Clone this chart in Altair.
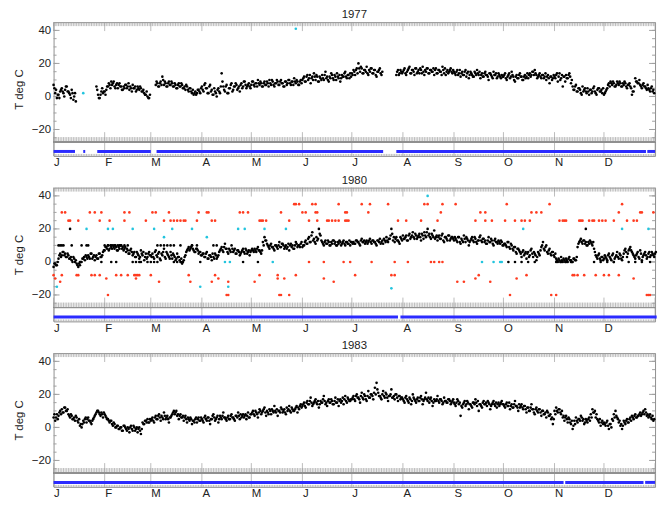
import json
import altair as alt
import pandas as pd

MONTH_LABELS = ["J", "F", "M", "A", "M", "J", "J", "A", "S", "O", "N", "D"]
MONTH_STARTS = [0, 31, 59, 90, 120, 151, 181, 212, 243, 273, 304, 334]
MONTH_STARTS_LEAP = [0, 31, 60, 91, 121, 152, 182, 213, 244, 274, 305, 335]
Y_LABELS = [-20, 0, 20, 40]

# ---------------- 1977 temperatures: two readings per day (None = no data) ----------------
t77_jan = [7, 2, -1, 1, 3, 5, 2, 4, 6, 3, 1, 4, -2, 2, None, None, None, None, None, None, None, None, None, None, None, None, 6, 1, -1, 3, 2]
t77_feb = [3, 4, 6, 7, 9, 8, 6, 7, 5, 8, 6, 4, 5, 7, 6, 4, 5, 7, 5, 3, 6, 4, 5, 3, 2, 1, 0, -1]
t77_mar = [None, None, None, 7, 8, 6, 9, 12, 7, 8, 6, 9, 7, 8, 6, 7, 5, 8, 6, 7, 5, 4, 6, 3, 5, 2, 1, 3, 2, 4, 2]
t77_apr = [6, 3, 8, 5, 2, 7, 4, 1, 3, 0, 5, 2, 14, 6, 3, 7, 2, 5, 8, 4, 6, 7, 5, 3, 8, 6, 9, 5, 7, 6]
t77_may = [7, 9, 6, 8, 10, 7, 8, 6, 9, 7, 8, 10, 7, 9, 6, 8, 9, 7, 10, 8, 6, 9, 8, 10, 7, 9, 11, 8, 9, 7, 10]
t77_jun = [10, 12, 9, 13, 11, 8, 12, 14, 10, 12, 9, 11, 13, 10, 15, 12, 9, 11, 13, 10, 12, 14, 11, 9, 13, 12, 15, 11, 13, 14]
t77_jul = [14, 16, 13, 17, 20, 15, 17, 14, 16, 18, 13, 15, 17, 14, 16, 12, 15, 17, 13, None, None, None, None, None, None, None, None, 13, 16, 14, 15]
t77_aug = [15, 17, 13, 16, 18, 14, 16, 13, 17, 15, 14, 16, 18, 13, 15, 17, 14, 16, 15, 13, 17, 14, 16, 15, 18, 14, 13, 16, 15, 17, 14]
t77_sep = [15, 13, 16, 14, 12, 15, 13, 16, 14, 11, 15, 13, 12, 14, 16, 13, 11, 14, 12, 15, 13, 10, 14, 12, 15, 13, 11, 14, 12, 13]
t77_oct = [12, 14, 10, 13, 11, 15, 12, 9, 13, 11, 14, 12, 10, 13, 12, 11, 14, 13, 15, 16, 13, 12, 14, 11, 13, 12, 10, 13, 8, 12, 11]
t77_nov = [12, 13, 9, 14, 11, 6, 12, 13, 11, 14, 8, 6, 4, 7, 3, 5, 2, 6, 4, 3, 5, 1, 4, 3, 6, 2, 4, 5, 3, 2]
t77_dec = [1, 3, 5, 8, 9, 7, 8, 6, 9, 7, 8, 6, 7, 8, 5, 7, 6, 1, 3, 11, 9, 8, 7, 5, 8, 6, 4, 5, 3, 6, 4]
t77b_jan = [5, 4, 1, -1, 4, 3, 0, 6, 3, 2, -1, 2, 0, -3, None, None, None, None, None, None, None, None, None, None, None, None, 4, -1, 1, 5, 3]
t77b_feb = [1, 6, 8, 5, 7, 9, 5, 8, 7, 6, 4, 6, 7, 5, 8, 6, 3, 5, 6, 4, 5, 6, 3, 4, 1, 3, -1, 1]
t77b_mar = [None, None, None, 9, 6, 8, 7, 10, 9, 6, 8, 7, 9, 6, 8, 5, 7, 6, 8, 5, 6, 7, 4, 5, 3, 4, 2, 1, 4, 3, 5]
t77b_apr = [4, 7, 5, 2, 6, 3, 1, 5, 2, 4, 3, 6, 9, 4, 6, 2, 5, 7, 3, 6, 8, 4, 6, 7, 5, 9, 7, 6, 8, 5]
t77b_may = [9, 7, 8, 6, 8, 9, 6, 8, 7, 9, 6, 8, 10, 7, 8, 10, 7, 9, 8, 6, 9, 7, 10, 8, 9, 7, 9, 10, 7, 9, 8]
t77b_jun = [11, 9, 12, 10, 13, 11, 10, 12, 13, 9, 12, 10, 11, 13, 11, 10, 12, 14, 11, 13, 10, 12, 13, 11, 12, 14, 12, 13, 11, 12]
t77b_jul = [13, 15, 16, 14, 17, 18, 14, 16, 15, 14, 16, 17, 14, 16, 13, 15, 16, 14, 15, None, None, None, None, None, None, None, None, 15, 13, 16, 14]
t77b_aug = [16, 14, 15, 17, 14, 16, 15, 17, 14, 16, 17, 14, 15, 16, 17, 14, 16, 15, 17, 16, 14, 16, 15, 13, 16, 17, 15, 14, 16, 15, 16]
t77b_sep = [14, 15, 13, 16, 14, 13, 15, 12, 15, 13, 14, 12, 15, 13, 14, 15, 13, 12, 14, 13, 12, 14, 13, 11, 13, 14, 12, 13, 11, 12]
t77b_oct = [13, 11, 12, 14, 12, 13, 10, 12, 11, 13, 12, 10, 12, 11, 14, 13, 12, 15, 13, 14, 11, 13, 12, 13, 11, 14, 12, 11, 12, 10, 13]
t77b_nov = [11, 14, 12, 10, 13, 12, 9, 11, 13, 12, 10, 4, 6, 3, 5, 4, 1, 3, 5, 2, 3, 4, 2, 5, 3, 1, 5, 3, 4, 5]
t77b_dec = [2, 4, 7, 6, 8, 9, 6, 7, 8, 9, 6, 8, 9, 6, 7, 8, 5, 3, 6, 9, 8, 10, 6, 7, 6, 5, 7, 4, 5, 3, 2]
cyan77_day = [18, 147]
cyan77_val = [2, 41]
avail77_start = [0, 18, 26.5, 62.5, 208, 360.3]
avail77_end = [13, 19.2, 59, 200, 359.5, 365]

# ---------------- 1980 temperatures ----------------
t80_jan = [-3, -1, -2, 2, 5, 4, 6, 5, 3, 4, 2, 1, 3, 0, -1, -3, -2, 0, 2, 1, 3, 4, 2, 5, 3, 1, 4, 2, 5, 3, 6]
t80_feb = [7, 9, 10, 8, 9, 10, 8, 9, 7, 8, 10, 9, 8, 6, 7, 5, 8, 4, 6, 3, 5, 2, 7, 4, 1, 5, 3, 6, 4]
t80_mar = [5, 2, 7, 3, 6, 1, 4, 8, 2, 5, 3, 6, 2, 4, 1, 5, 3, 0, -1, 1, 4, 7, 9, 8, 10, 7, 6, 8, 5, 6, 4]
t80_apr = [5, 3, 6, 2, 4, 1, 3, 5, 2, 4, 7, 9, 6, 11, 8, 5, 7, 10, 6, 8, 5, 7, 4, 6, 8, 5, 7, 6, 4, 7]
t80_may = [7, 8, 6, 9, 7, 5, 12, 15, 13, 10, 8, 11, 9, 7, 10, 8, 12, 9, 11, 8, 10, 9, 7, 11, 10, 8, 12, 9, 10, 11, 9]
t80_jun = [10, 13, 11, 15, 12, 18, 14, 11, 13, 20, 16, 12, 10, 13, 11, 12, 10, 11, 13, 12, 10, 11, 12, 11, 13, 10, 12, 11, 10, 12]
t80_jul = [12, 11, 13, 12, 10, 14, 12, 11, 13, 12, 14, 11, 13, 12, 10, 13, 14, 12, 11, 13, 15, 12, 14, 20, 13, 12, 15, 13, 11, 14, 16]
t80_aug = [14, 16, 13, 17, 15, 18, 14, 16, 15, 17, 13, 16, 18, 15, 20, 17, 14, 16, 19, 15, 13, 16, 14, 17, 12, 15, 13, 16, 14, 15, 13]
t80_sep = [14, 12, 15, 11, 13, 16, 12, 14, 10, 13, 15, 12, 14, 11, 13, 16, 12, 14, 13, 11, 15, 12, 13, 10, 14, 12, 13, 11, 12, 10]
t80_oct = [11, 9, 12, 8, 10, 7, 9, 5, 8, 6, 3, 7, 5, 2, 6, 4, 8, 3, 5, 1, 6, 4, 9, 12, 7, 10, 5, 8, 4, 6, 3]
t80_nov = [2, 0, 1, 3, 0, 1, 2, 0, 3, 1, 0, 2, 1, 9, 12, 14, 11, 13, 12, 10, 11, 12, 10, 8, 4, 2, 5, 1, 3, 2]
t80_dec = [3, 1, 5, 2, 4, 0, 3, 6, 2, 4, 1, 5, 8, 3, 7, 9, 6, 4, 2, 5, 3, 7, 1, 4, 6, 2, 5, 3, 6, 4, 5]
t80b_jan = [-1, -2, 0, 4, 3, 6, 4, 3, 5, 2, 3, 0, 2, 1, -2, -1, 0, 2, 3, 4, 2, 3, 5, 2, 4, 3, 2, 5, 3, 4, 7]
t80b_feb = [9, 8, 7, 10, 8, 9, 10, 7, 9, 10, 8, 7, 9, 8, 5, 7, 6, 5, 3, 6, 4, 3, 5, 6, 3, 2, 5, 4, 3]
t80b_mar = [3, 6, 4, 5, 2, 5, 6, 3, 6, 4, 2, 4, 5, 3, 2, 3, 1, 2, 0, 3, 6, 8, 7, 9, 8, 6, 8, 7, 6, 4, 5]
t80b_apr = [3, 5, 2, 4, 3, 5, 2, 4, 3, 6, 8, 7, 9, 8, 6, 8, 6, 8, 7, 5, 7, 6, 5, 7, 6, 8, 5, 7, 6, 8]
t80b_may = [6, 7, 8, 7, 6, 7, 10, 13, 11, 9, 10, 9, 8, 10, 9, 10, 9, 11, 10, 9, 8, 11, 10, 9, 8, 10, 11, 10, 9, 12, 10]
t80b_jun = [12, 11, 14, 12, 16, 13, 12, 15, 14, 17, 13, 11, 12, 11, 13, 10, 12, 13, 11, 10, 12, 13, 10, 12, 11, 12, 11, 13, 12, 11]
t80b_jul = [11, 13, 12, 11, 13, 12, 13, 12, 11, 13, 12, 13, 12, 11, 13, 12, 11, 13, 14, 12, 13, 14, 16, 17, 15, 14, 13, 12, 15, 13, 14]
t80b_aug = [15, 13, 16, 14, 16, 15, 17, 14, 16, 15, 17, 14, 16, 18, 16, 15, 17, 15, 14, 16, 15, 14, 16, 13, 15, 14, 16, 13, 15, 14, 15]
t80b_sep = [13, 15, 12, 14, 12, 14, 15, 13, 12, 14, 13, 15, 12, 13, 15, 13, 14, 12, 11, 13, 12, 14, 11, 13, 12, 11, 12, 13, 10, 11]
t80b_oct = [10, 12, 9, 11, 8, 9, 6, 8, 7, 5, 6, 4, 6, 5, 3, 7, 5, 6, 4, 3, 5, 7, 10, 8, 9, 6, 7, 5, 6, 4, 5]
t80b_nov = [1, 2, 0, 1, 2, 0, 1, 2, 1, 0, 2, 1, 3, 11, 13, 12, 13, 11, 10, 12, 13, 11, 12, 6, 3, 4, 2, 3, 1, 4]
t80b_dec = [2, 4, 3, 1, 5, 2, 4, 3, 5, 2, 3, 7, 6, 5, 8, 7, 5, 3, 4, 6, 2, 5, 3, 5, 4, 3, 6, 4, 5, 3, 6]
# black readings sitting on flagged levels
blk80_10 = [3, 4, 5, 6, 11, 17, 20, 21, 31, 33, 35, 37, 39, 40, 41, 43, 45, 63, 65, 67, 69, 71, 73, 77, 84, 87, 97, 99]
blk80_0 = [16, 29, 35, 38, 48, 50, 52, 53, 57, 59, 61, 63, 73, 75, 78, 89, 115, 124, 276, 280, 284, 288, 292, 305, 308, 311, 314, 328, 332, 336, 340, 349, 353, 357, 362]
blk80_20 = [10, 323]
# red readings (day of year) on their levels
red80_35 = [146, 147, 149, 157, 159, 173, 187, 192, 203, 225, 227, 236, 244, 275, 301, 345]
red80_30 = [5, 7, 22, 25, 29, 43, 46, 60, 62, 70, 88, 93, 94, 113, 115, 118, 138, 151, 153, 159, 160, 177, 178, 191, 235, 259, 262, 290, 293, 296, 343, 356, 357, 364]
red80_25 = [9, 10, 15, 28, 34, 43, 56, 67, 71, 73, 75, 77, 79, 80, 87, 96, 98, 125, 126, 127, 129, 143, 155, 160, 166, 167, 169, 171, 173, 177, 178, 179, 209, 214, 223, 233, 256, 262, 266, 274, 280, 284, 286, 289, 307, 309, 310, 311, 319, 320, 321, 325, 327, 328, 331, 333, 335, 340, 348, 352, 354]
red80_0 = [155, 164, 176, 180, 193, 207, 215, 229, 231, 234, 236]
red80_m8 = [0, 5, 14, 15, 23, 25, 28, 38, 41, 45, 49, 50, 51, 52, 59, 82, 98, 125, 136, 147, 183, 205, 207, 258, 287, 315, 316, 318, 322, 329, 334, 337, 343]
red80_m10 = [1, 32, 50, 100, 136, 140, 164, 256, 281, 352]
red80_m12 = [4, 64, 83, 96, 106, 122, 170, 245, 249, 265]
red80_m20 = [33, 105, 106, 137, 138, 143, 277, 302, 305, 360, 361, 362]
cyan80_day = [227, 20, 33, 36, 48, 61, 72, 84, 112, 116, 128, 141, 285, 345, 361, 67, 93, 104, 107, 133, 260, 267, 271, 272, 2, 89, 106, 205]
cyan80_val = [40, 20, 20, 20, 20, 20, 20, 20, 20, 20, 20, 20, 20, 20, 20, 15, 15, 0, 0, 0, 0, 0, 0, 0, -15, -15, -15, -16]
avail80_start = [0, 210.5]
avail80_end = [209, 366]

# ---------------- 1983 temperatures ----------------
t83_jan = [6, 4, 8, 7, 10, 11, 9, 12, 10, 8, 6, 7, 5, 4, 6, 3, 1, 0, 4, 5, 3, 6, 4, 2, 5, 7, 9, 10, 8, 9, 6]
t83_feb = [8, 6, 5, 3, 4, 1, 2, 0, 1, -1, 0, -2, 1, -1, 0, -3, 1, -2, 0, -1, -3, 0, -4, 3, 2, 4, 5, 3]
t83_mar = [4, 6, 3, 7, 5, 8, 4, 6, 9, 5, 7, 3, 6, 8, 10, 9, 7, 5, 8, 6, 4, 7, 3, 5, 6, 2, 4, 5, 3, 6, 4]
t83_apr = [5, 3, 7, 4, 6, 2, 5, 8, 4, 6, 3, 7, 5, 9, 6, 4, 7, 5, 8, 6, 4, 7, 9, 5, 6, 8, 7, 5, 9, 6]
t83_may = [8, 10, 7, 9, 6, 11, 8, 10, 12, 7, 9, 11, 8, 10, 13, 9, 7, 10, 12, 9, 11, 8, 10, 13, 9, 11, 10, 12, 9, 11, 14]
t83_jun = [13, 15, 12, 16, 14, 18, 13, 15, 17, 14, 12, 16, 15, 19, 14, 13, 17, 15, 16, 14, 18, 15, 13, 17, 16, 14, 19, 15, 17, 16]
t83_jul = [17, 19, 16, 20, 18, 15, 21, 17, 19, 16, 22, 18, 20, 17, 24, 27, 21, 19, 17, 22, 18, 20, 16, 19, 23, 18, 17, 20, 16, 19, 18]
t83_aug = [17, 15, 19, 16, 18, 14, 20, 17, 15, 18, 16, 19, 14, 17, 21, 16, 15, 18, 13, 17, 16, 19, 15, 17, 14, 18, 16, 15, 17, 14, 16]
t83_sep = [15, 13, 17, 14, 7, 12, 15, 13, 16, 11, 14, 12, 15, 17, 13, 10, 14, 12, 16, 14, 13, 15, 11, 14, 16, 13, 12, 15, 14, 16]
t83_oct = [14, 12, 15, 13, 11, 14, 12, 16, 13, 10, 12, 14, 11, 13, 9, 12, 10, 14, 11, 8, 12, 9, 11, 7, 10, 8, 6, 9, 7, 5, 2]
t83_nov = [10, 12, 9, 11, 8, 6, 4, 7, 3, 5, 2, -1, 4, 6, 3, 5, 7, 4, 2, 5, 3, 6, 8, 11, 9, 6, 5, 3, 1, 4]
t83_dec = [3, 1, 4, -1, 2, 5, 8, 10, 6, 3, 1, -1, 4, 2, 5, 3, 6, 7, 5, 8, 6, 7, 9, 8, 10, 11, 7, 6, 8, 5, 4]
t83b_jan = [8, 6, 5, 9, 8, 9, 12, 10, 11, 7, 8, 5, 6, 7, 4, 5, 2, 2, 3, 6, 5, 4, 3, 4, 6, 8, 10, 9, 7, 8, 9]
t83b_feb = [7, 5, 4, 4, 2, 3, 0, 1, -1, 0, -2, 1, 0, -2, -1, 0, -1, 1, -2, 0, -1, -2, -1, 2, 4, 3, 3, 5]
t83b_mar = [5, 4, 6, 5, 7, 6, 7, 5, 7, 6, 5, 6, 7, 9, 8, 10, 8, 7, 6, 7, 6, 5, 6, 4, 5, 4, 3, 6, 5, 4, 6]
t83b_apr = [4, 6, 5, 6, 4, 5, 7, 6, 5, 7, 5, 6, 7, 6, 5, 6, 5, 7, 6, 5, 7, 6, 7, 8, 7, 6, 8, 7, 6, 8]
t83b_may = [9, 8, 10, 8, 9, 10, 9, 11, 9, 10, 8, 10, 11, 9, 10, 11, 10, 9, 11, 10, 9, 12, 11, 10, 12, 10, 11, 13, 12, 13, 12]
t83b_jun = [14, 13, 15, 14, 16, 15, 14, 16, 15, 16, 14, 15, 17, 16, 15, 16, 15, 17, 14, 16, 15, 17, 16, 15, 18, 17, 16, 18, 16, 17]
t83b_jul = [18, 17, 19, 18, 17, 19, 18, 20, 17, 19, 18, 20, 19, 21, 20, 23, 19, 18, 20, 19, 21, 18, 19, 20, 18, 19, 20, 18, 19, 17, 18]
t83b_aug = [16, 18, 17, 15, 17, 16, 18, 16, 17, 16, 18, 17, 16, 18, 17, 18, 17, 16, 15, 16, 17, 16, 17, 16, 15, 16, 15, 17, 16, 15, 17]
t83b_sep = [14, 15, 16, 15, 13, 14, 16, 14, 15, 14, 13, 15, 14, 15, 16, 14, 13, 15, 14, 15, 16, 14, 13, 15, 14, 15, 14, 13, 15, 14]
t83b_oct = [13, 14, 13, 15, 13, 12, 14, 13, 12, 14, 13, 12, 13, 11, 12, 10, 12, 11, 9, 11, 10, 11, 9, 10, 8, 9, 10, 7, 8, 6, 5]
t83b_nov = [8, 10, 11, 9, 10, 7, 6, 5, 6, 3, 4, 1, 2, 4, 5, 4, 6, 5, 3, 4, 5, 4, 6, 9, 10, 8, 4, 5, 3, 2]
t83b_dec = [2, 3, 1, 2, 0, 4, 6, 7, 5, 4, 2, 1, 3, 4, 3, 5, 4, 6, 7, 6, 7, 8, 7, 9, 8, 9, 8, 7, 6, 7, 5]
avail83_start = [0, 310.5, 359]
avail83_end = [309.5, 358, 365]

# ---------------- styling ----------------
W, H = 607, 135
FONT = "Liberation Sans"
TXT = "#222222"
TICK = "#a0a0a0"
FRAME = "#909090"
COLORS = {"black": "#000000", "red": "#ff3b1f", "cyan": "#22c4de"}
XS = alt.Scale(domain=[0, 365], nice=False, zero=False)
YS = alt.Scale(domain=[-36, 45], nice=False, zero=False)
label_expr = f"{json.dumps(MONTH_LABELS)}[indexof({json.dumps(MONTH_STARTS)}, datum.value)]"

X_AXIS = alt.Axis(values=MONTH_STARTS, labelExpr=label_expr, ticks=False, domain=False,
                  grid=False, labelAlign="left", labelPadding=1, labelFontSize=11.5,
                  labelFont=FONT, labelColor=TXT, title=None, labelOverlap=False,
                  labelFlush=False, labelBound=False)
Y_AXIS = alt.Axis(values=Y_LABELS, ticks=False, domain=False, grid=False, labelPadding=3,
                  labelFontSize=11.5, labelFont=FONT, labelColor=TXT, title="T deg C",
                  titleFont=FONT, titleFontSize=11.5, titleFontWeight="normal",
                  titleColor=TXT, titlePadding=7, labelOverlap=False)


def daily_rows(months, starts, shift=0.0):
    rows = []
    for m, vals in enumerate(months):
        for i, v in enumerate(vals):
            if v is not None:
                rows.append({"day": starts[m] + i + shift, "t": v, "kind": "black"})
    return rows


def point_rows(days, vals, kind):
    return [{"day": d, "t": v, "kind": kind} for d, v in zip(days, vals)]


def level_rows(days, level, kind):
    return [{"day": d, "t": level, "kind": kind} for d in days]


days_df = pd.DataFrame({"day": list(range(0, 366))})
months_df = pd.DataFrame({"day": MONTH_STARTS + [365]})
yminor_df = pd.DataFrame({"t": [v for v in range(-25, 45, 5)]})
ymajor_df = pd.DataFrame({"t": Y_LABELS})


def panel(title, rows, a_start, a_end):
    pts = pd.DataFrame(rows)
    av = pd.DataFrame({"day": a_start, "end": a_end})

    xenc = alt.X("day:Q", scale=XS, axis=X_AXIS)
    yenc = alt.Y("t:Q", scale=YS, axis=Y_AXIS)

    def xrule(df, y0, y1):
        return alt.Chart(df).mark_rule(color=TICK, strokeWidth=0.7).encode(
            x=xenc, y=alt.value(y0), y2=alt.value(y1))

    def yrule(df, x0, x1):
        return alt.Chart(df).mark_rule(color=TICK, strokeWidth=1).encode(
            y=yenc, x=alt.value(x0), x2=alt.value(x1))

    strip = H - 14  # top of the data-availability strip
    top_daily = xrule(days_df, 0, 4)
    top_month = xrule(months_df, 0, 9)
    mid_daily = xrule(days_df, strip - 5, strip)
    mid_month = xrule(months_df, strip - 10, H)
    bot_daily = xrule(days_df, H - 2, H)
    divider = alt.Chart(months_df).mark_rule(color=FRAME, strokeWidth=1).encode(
        x=alt.value(0), x2=alt.value(W), y=alt.value(strip))
    yl_minor = yrule(yminor_df, 0, 3)
    yl_major = yrule(ymajor_df, 0, 6)
    yr_minor = yrule(yminor_df, W - 3, W)
    yr_major = yrule(ymajor_df, W - 6, W)

    bar = alt.Chart(av).mark_rule(color="#2b2bff", strokeWidth=3).encode(
        x=xenc, x2="end:Q", y=alt.value(H - 4.5))

    points = alt.Chart(pts).mark_circle(size=7, opacity=1).encode(
        x=xenc, y=yenc,
        color=alt.Color("kind:N", scale=alt.Scale(domain=list(COLORS.keys()),
                                                  range=list(COLORS.values())), legend=None),
    )

    return alt.layer(
        top_daily, top_month, mid_daily, mid_month, bot_daily, divider,
        yl_minor, yl_major, yr_minor, yr_major, bar, points,
    ).properties(
        width=W, height=H,
        title=alt.TitleParams(title, fontSize=11.5, font=FONT, fontWeight="normal",
                              color=TXT, offset=1, anchor="middle", frame="group"),
    )


rows77 = (daily_rows([t77_jan, t77_feb, t77_mar, t77_apr, t77_may, t77_jun, t77_jul,
                      t77_aug, t77_sep, t77_oct, t77_nov, t77_dec], MONTH_STARTS)
          + daily_rows([t77b_jan, t77b_feb, t77b_mar, t77b_apr, t77b_may, t77b_jun, t77b_jul,
                        t77b_aug, t77b_sep, t77b_oct, t77b_nov, t77b_dec], MONTH_STARTS, 0.5)
          + point_rows(cyan77_day, cyan77_val, "cyan"))

rows80 = daily_rows([t80_jan, t80_feb, t80_mar, t80_apr, t80_may, t80_jun, t80_jul,
                     t80_aug, t80_sep, t80_oct, t80_nov, t80_dec], MONTH_STARTS_LEAP)
rows80 += daily_rows([t80b_jan, t80b_feb, t80b_mar, t80b_apr, t80b_may, t80b_jun, t80b_jul,
                      t80b_aug, t80b_sep, t80b_oct, t80b_nov, t80b_dec], MONTH_STARTS_LEAP, 0.5)
rows80 += level_rows(blk80_10, 10, "black") + level_rows(blk80_0, 0, "black") + level_rows(blk80_20, 20, "black")
rows80 += (level_rows(red80_35, 35, "red") + level_rows(red80_30, 30, "red")
           + level_rows(red80_25, 25, "red") + level_rows(red80_0, 0, "red")
           + level_rows(red80_m8, -8, "red") + level_rows(red80_m10, -10, "red")
           + level_rows(red80_m12, -12, "red") + level_rows(red80_m20, -20, "red"))
rows80 += point_rows(cyan80_day, cyan80_val, "cyan")

rows83 = (daily_rows([t83_jan, t83_feb, t83_mar, t83_apr, t83_may, t83_jun, t83_jul,
                      t83_aug, t83_sep, t83_oct, t83_nov, t83_dec], MONTH_STARTS)
          + daily_rows([t83b_jan, t83b_feb, t83b_mar, t83b_apr, t83b_may, t83b_jun, t83b_jul,
                        t83b_aug, t83b_sep, t83b_oct, t83b_nov, t83b_dec], MONTH_STARTS, 0.5))

p77 = panel("1977", rows77, avail77_start, avail77_end)
p80 = panel("1980", rows80, avail80_start, avail80_end)
p83 = panel("1983", rows83, avail83_start, avail83_end)

chart = alt.vconcat(p77, p80, p83, spacing=32, bounds="flush").properties(
    padding={"left": 4, "top": -2, "right": 0, "bottom": 0}
).configure_view(stroke=FRAME, strokeWidth=1)

chart.save("out.html", embed_options={"renderer": "svg", "actions": False})
